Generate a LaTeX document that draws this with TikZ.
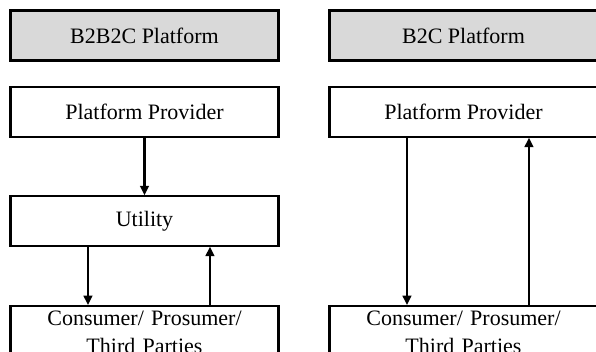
\documentclass[tikz,border=0pt]{standalone}
\usepackage{fontspec}
\setmainfont{Liberation Serif}
\usetikzlibrary{arrows.meta}
\begin{document}
\begin{tikzpicture}[x=0.75pt,y=-0.75pt,
  box/.style={draw=black, line width=1.6pt, fill=white, minimum width=201pt, inner sep=0pt,
    font=\fontsize{16.5}{20.3}\selectfont, align=center},
  hdr/.style={box, fill=gray!30, minimum height=37.5pt},
  mid/.style={box, minimum height=37pt},
  bot/.style={box, anchor=north, inner ysep=4pt, text width=195pt},
  arr/.style={line width=1.6pt, -{Triangle[length=7pt,width=6.5pt]}}]
\clip (0,0) rectangle (596,352);
\useasboundingbox (0,0) rectangle (596,352);
% left column
\node[hdr] (h1) at (144.5,35.5) {B2B2C Platform};
\node[mid] (p1) at (144.5,112) {Platform Provider};
\node[mid] (u1) at (144.5,221) {Utility};
\node[bot] (c1) at (144.5,305) {Consumer/ Prosumer/\\Third Parties};
% right column
\node[hdr] (h2) at (463.5,35.5) {B2C Platform};
\node[mid] (p2) at (463.5,112) {Platform Provider};
\node[bot] (c2) at (463.5,305) {Consumer/ Prosumer/\\Third Parties};
% arrows
\draw[arr] (p1.south) -- (u1.north);
\draw[arr] ([xshift=-42.4pt]u1.south) -- ([xshift=-42.4pt]c1.north);
\draw[arr] ([xshift=49.1pt]c1.north) -- ([xshift=49.1pt]u1.south);
\draw[arr] ([xshift=-42.4pt]p2.south) -- ([xshift=-42.4pt]c2.north);
\draw[arr] ([xshift=49.1pt]c2.north) -- ([xshift=49.1pt]p2.south);
\end{tikzpicture}
\end{document}
